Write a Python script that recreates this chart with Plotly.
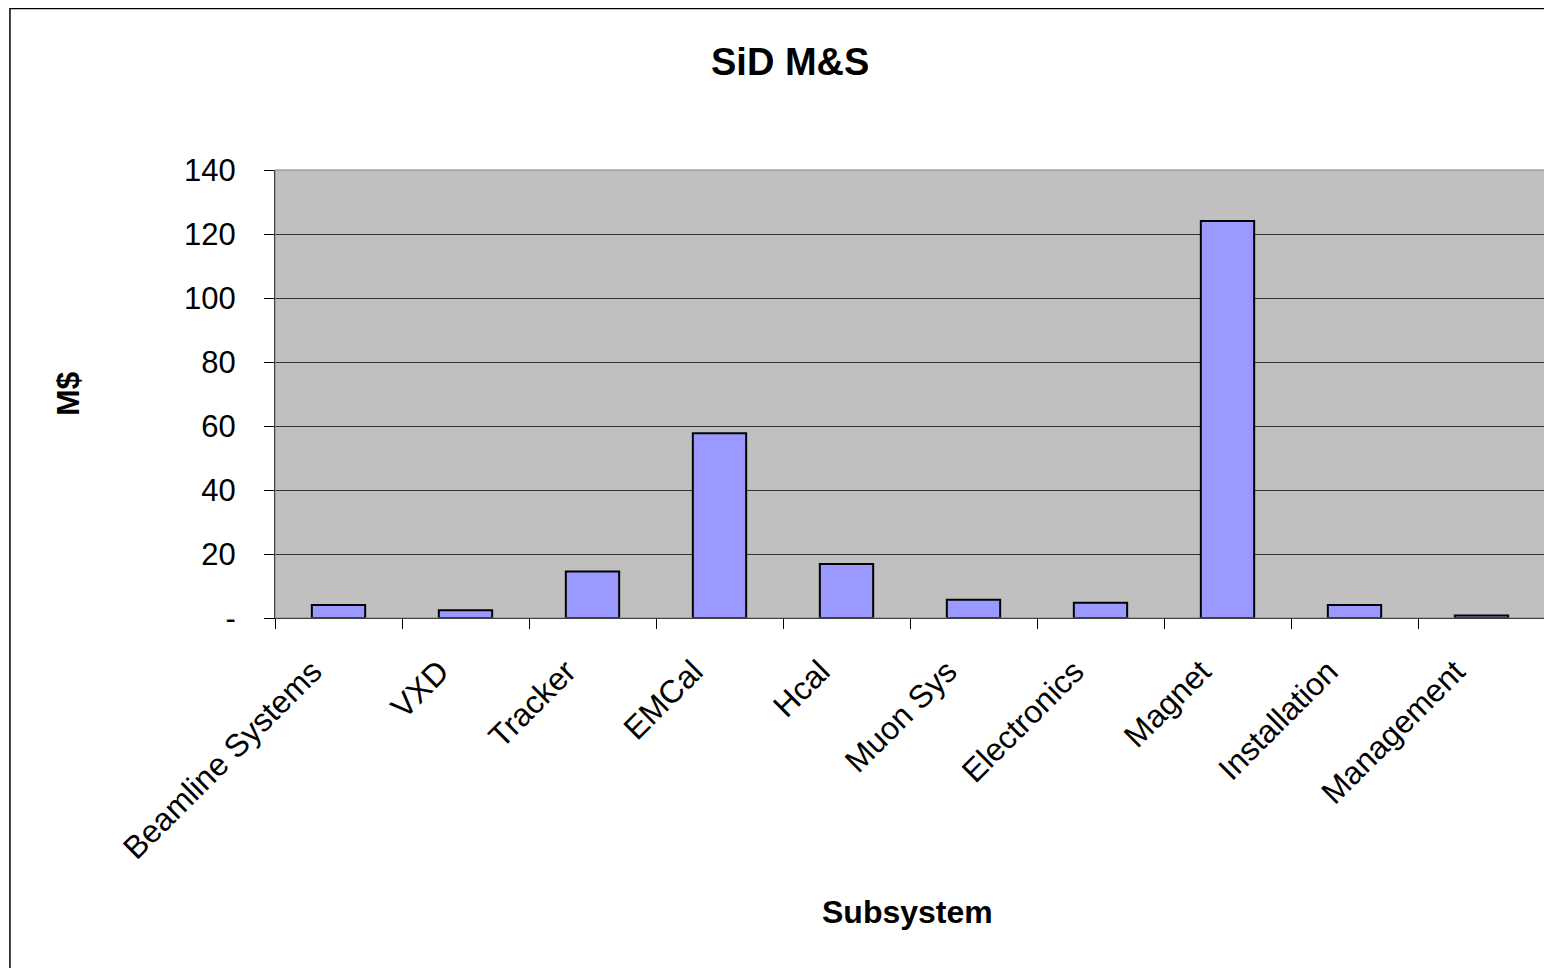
import plotly.graph_objects as go

# Subsystem costs (M$)
subsystems = [
    "Beamline Systems", "VXD", "Tracker", "EMCal", "Hcal",
    "Muon Sys", "Electronics", "Magnet", "Installation", "Management",
]
cost_musd = [4.1, 2.4, 14.5, 57.7, 16.9, 5.7, 4.8, 124.1, 4.1, 0.8]

y_ticks = [0, 20, 40, 60, 80, 100, 120, 140]
y_labels = ["-", "20", "40", "60", "80", "100", "120", "140"]

FONT = "Liberation Sans, Arial, sans-serif"

fig = go.Figure(
    data=[
        go.Bar(
            x=subsystems,
            y=cost_musd,
            marker=dict(color="#9999FF", line=dict(color="black", width=2)),
            width=0.42,
        )
    ]
)

fig.update_layout(
    width=1544,
    height=960,
    margin=dict(l=267, r=7, t=162, b=350),
    paper_bgcolor="white",
    plot_bgcolor="#C0C0C0",
    showlegend=False,
    font=dict(family=FONT, color="black"),
)

fig.update_xaxes(
    type="category",
    tickson="boundaries",
    ticks="outside",
    ticklen=10,
    tickcolor="black",
    tickwidth=1,
    tickangle=-45,
    tickfont=dict(size=32, family=FONT),
    ticklabelstandoff=21,
    ticklabelshift=-26,
    showline=True,
    linecolor="black",
    linewidth=1,
    showgrid=False,
)

fig.update_yaxes(
    range=[0, 140],
    tickvals=y_ticks,
    ticktext=y_labels,
    ticks="outside",
    ticklen=10,
    tickcolor="black",
    tickfont=dict(size=31, family=FONT),
    ticklabelstandoff=22,
    showline=True,
    linecolor="black",
    linewidth=1,
    showgrid=True,
    gridcolor="#333333",
    gridwidth=1,
    zeroline=False,
)

# plot area frame and chart border
fig.add_shape(type="rect", xref="paper", yref="paper", x0=0, x1=1, y0=0, y1=1,
              line=dict(color="#808080", width=1), layer="above")
fig.add_shape(type="rect", xref="paper", yref="paper",
              x0=-0.2087, x1=1.02, y0=-0.8, y1=1.3605,
              line=dict(color="black", width=1.5))

fig.add_annotation(text="<b>SiD M&S</b>", xref="paper", yref="paper",
                   x=0.4055, y=1.241, xanchor="center", yanchor="middle",
                   showarrow=False, font=dict(size=38, family=FONT))
fig.add_annotation(text="<b>Subsystem</b>", xref="paper", yref="paper",
                   x=0.4984, y=-0.656, xanchor="center", yanchor="middle",
                   showarrow=False, font=dict(size=32, family=FONT))
fig.add_annotation(text="<b>M$</b>", xref="paper", yref="paper",
                   x=-0.163, y=0.502, xanchor="center", yanchor="middle",
                   showarrow=False, textangle=-90,
                   font=dict(size=32, family=FONT))

fig.write_html("out.html")
